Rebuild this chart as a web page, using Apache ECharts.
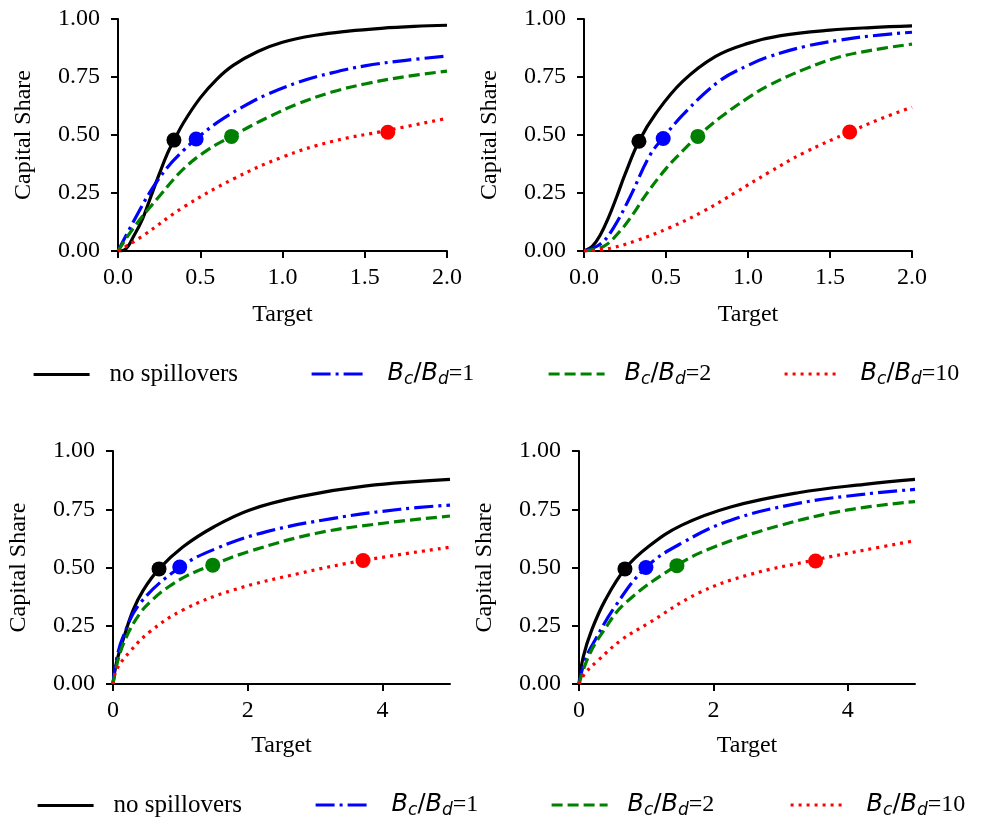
<!DOCTYPE html>
<html>
<head>
<meta charset="utf-8">
<script src="https://cdn.jsdelivr.net/npm/echarts@6.0.0/dist/echarts.min.js"></script>
<style>
html,body{margin:0;padding:0;background:#fff;}
#chart{width:987px;height:822px;}
</style>
</head>
<body>
<div id="chart"></div>
<script>
// ---------------- data ----------------
const seriesNames = ['no spillovers', 'Bc/Bd=1', 'Bc/Bd=2', 'Bc/Bd=10'];
const yTicks = [0, 0.25, 0.5, 0.75, 1.0];
const xTicksTop = [0, 0.5, 1.0, 1.5, 2.0];
const xTicksBottom = [0, 2, 4];

// Panel 1 (top-left)
const p1Black = [[0,0],[0.04,0.005],[0.1,0.07],[0.15,0.14],[0.2,0.235],[0.25,0.33],[0.3,0.42],[0.34,0.476],[0.4,0.555],[0.5,0.66],[0.6,0.74],[0.7,0.8],[0.85,0.86],[1.0,0.9],[1.2,0.93],[1.4,0.948],[1.6,0.96],[1.8,0.968],[2.0,0.973]];
const p1Blue  = [[0,0],[0.1,0.135],[0.2,0.26],[0.3,0.36],[0.4,0.435],[0.475,0.483],[0.6,0.552],[0.75,0.618],[0.9,0.673],[1.1,0.728],[1.3,0.768],[1.5,0.798],[1.75,0.822],[2.0,0.84]];
const p1Green = [[0,0],[0.1,0.105],[0.25,0.235],[0.4,0.355],[0.55,0.438],[0.69,0.494],[0.9,0.572],[1.1,0.636],[1.3,0.685],[1.5,0.72],[1.75,0.752],[2.0,0.775]];
const p1Red   = [[0,0],[0.15,0.065],[0.4,0.19],[0.7,0.31],[1.0,0.405],[1.3,0.472],[1.64,0.52],[2.0,0.572]];
const p1Dots  = [[0.34,0.478],[0.475,0.483],[0.69,0.494],[1.64,0.512]];

// Panel 2 (top-right)
const p2Black = [[0,0],[0.05,0.02],[0.1,0.07],[0.15,0.145],[0.2,0.235],[0.25,0.33],[0.335,0.473],[0.44,0.595],[0.6,0.73],[0.8,0.838],[1.0,0.895],[1.2,0.928],[1.5,0.952],[1.75,0.963],[2.0,0.97]];
const p2Blue  = [[0,0],[0.1,0.03],[0.18,0.1],[0.28,0.232],[0.4,0.41],[0.483,0.488],[0.62,0.6],[0.83,0.735],[1.0,0.8],[1.13,0.838],[1.35,0.882],[1.55,0.908],[1.75,0.927],[2.0,0.943]];
const p2Green = [[0,0],[0.12,0.02],[0.22,0.086],[0.3,0.16],[0.38,0.245],[0.5,0.355],[0.6,0.43],[0.694,0.494],[0.83,0.575],[1.0,0.66],[1.13,0.715],[1.35,0.785],[1.55,0.835],[1.75,0.865],[2.0,0.892]];
const p2Red   = [[0,0],[0.16,0.012],[0.32,0.045],[0.52,0.1],[0.73,0.172],[0.93,0.255],[1.13,0.34],[1.34,0.423],[1.62,0.513],[1.8,0.567],[2.0,0.62]];
const p2Dots  = [[0.335,0.473],[0.483,0.485],[0.694,0.494],[1.62,0.513]];

// Panel 3 (bottom-left)
const p3Black = [[0,0],[0.05,0.09],[0.15,0.19],[0.3,0.318],[0.45,0.403],[0.683,0.494],[1.04,0.589],[1.5,0.675],[2.03,0.747],[2.77,0.804],[3.76,0.85],[5,0.878]];
const p3Blue  = [[0,0],[0.05,0.103],[0.15,0.203],[0.4,0.346],[0.99,0.5],[1.535,0.582],[2.28,0.654],[3.27,0.711],[4.26,0.75],[5,0.768]];
const p3Green = [[0,0],[0.074,0.103],[0.2,0.203],[0.4,0.303],[0.6,0.365],[0.8,0.412],[1.1,0.465],[1.485,0.512],[2.03,0.57],[3.02,0.647],[4.01,0.69],[5,0.721]];
const p3Red   = [[0,0],[0.05,0.06],[0.25,0.139],[0.55,0.225],[1.04,0.318],[1.78,0.403],[2.77,0.475],[3.71,0.53],[5,0.587]];
const p3Dots  = [[0.683,0.494],[0.99,0.502],[1.48,0.51],[3.71,0.53]];

// Panel 4 (bottom-right)
const p4Black = [[0,0],[0.064,0.117],[0.19,0.232],[0.39,0.36],[0.684,0.494],[1.03,0.589],[1.53,0.682],[2.27,0.761],[3.26,0.821],[4.25,0.857],[5,0.878]];
const p4Blue  = [[0,0],[0.09,0.103],[0.24,0.189],[0.535,0.332],[0.996,0.5],[1.53,0.605],[2.27,0.704],[3.26,0.775],[4.25,0.815],[5,0.835]];
const p4Green = [[0,0],[0.14,0.117],[0.34,0.217],[0.684,0.346],[1.457,0.509],[2.02,0.589],[3.01,0.682],[4.0,0.747],[5,0.783]];
const p4Red   = [[0,0],[0.09,0.046],[0.29,0.103],[0.63,0.189],[1.03,0.26],[1.77,0.389],[2.52,0.468],[3.52,0.533],[4.25,0.575],[5,0.615]];
const p4Dots  = [[0.684,0.494],[0.996,0.5],[1.457,0.508],[3.52,0.528]];

// ---------------- styling ----------------
const colors = ['#000000', '#0000ff', '#008000', '#ff0000'];
const dashes = ['solid', [19, 5, 3, 5], [11, 5], [3, 5]];
const SERIF = 'Liberation Serif';
const FS = 24;

const panels = [
  {lines: [p1Black, p1Blue, p1Green, p1Red], dots: p1Dots, grid: {left: 118, top: 19, width: 329, height: 232}, xmax: 2, xticks: xTicksTop, xfmt: v => v.toFixed(1), nameGap: 52},
  {lines: [p2Black, p2Blue, p2Green, p2Red], dots: p2Dots, grid: {left: 584, top: 19, width: 328, height: 232}, xmax: 2, xticks: xTicksTop, xfmt: v => v.toFixed(1), nameGap: 52},
  {lines: [p3Black, p3Blue, p3Green, p3Red], dots: p3Dots, grid: {left: 113, top: 451, width: 337, height: 233}, xmax: 5, xticks: xTicksBottom, xfmt: v => String(v), nameGap: 50},
  {lines: [p4Black, p4Blue, p4Green, p4Red], dots: p4Dots, grid: {left: 579, top: 451, width: 336, height: 233}, xmax: 5, xticks: xTicksBottom, xfmt: v => String(v), nameGap: 50}
];

const grids = [], xAxes = [], yAxes = [], series = [];
const axisLine = {show: true, lineStyle: {color: '#000', width: 2}};
const axisTick = {show: true, length: 7, inside: false, lineStyle: {color: '#000', width: 2}};

panels.forEach((p, i) => {
  grids.push(Object.assign({containLabel: false}, p.grid));
  xAxes.push({
    type: 'value', gridIndex: i, min: 0, max: p.xmax,
    name: 'Target', nameLocation: 'middle', nameGap: p.nameGap,
    nameTextStyle: {fontFamily: SERIF, fontSize: FS, color: '#000'},
    axisLine: axisLine,
    axisTick: Object.assign({customValues: p.xticks}, axisTick),
    axisLabel: {customValues: p.xticks, formatter: p.xfmt, fontFamily: SERIF, fontSize: FS, color: '#000', margin: 15},
    splitLine: {show: false}
  });
  yAxes.push({
    type: 'value', gridIndex: i, min: 0, max: 1,
    name: 'Capital Share', nameLocation: 'middle', nameGap: 82, nameRotate: 90,
    nameTextStyle: {fontFamily: SERIF, fontSize: FS, color: '#000'},
    axisLine: axisLine,
    axisTick: Object.assign({customValues: yTicks}, axisTick),
    axisLabel: {customValues: yTicks, formatter: v => v.toFixed(2), fontFamily: SERIF, fontSize: FS, color: '#000', margin: 18},
    splitLine: {show: false}
  });
  p.lines.forEach((d, k) => {
    series.push({
      type: 'line', name: seriesNames[k], xAxisIndex: i, yAxisIndex: i,
      data: d, smooth: 0.4, symbol: 'none', showSymbol: false,
      lineStyle: {color: colors[k], width: 3.2, type: dashes[k], cap: 'butt'},
      itemStyle: {color: colors[k]},
      z: 2
    });
  });
  series.push({
    type: 'scatter', name: 'dots' + i, xAxisIndex: i, yAxisIndex: i,
    symbol: 'circle', symbolSize: 15,
    data: p.dots.map((pt, k) => ({value: pt, itemStyle: {color: colors[k], opacity: 1}})),
    itemStyle: {opacity: 1},
    z: 5
  });
});

const rich = {
  i: {fontFamily: 'DejaVu Sans', fontStyle: 'italic', fontSize: 24, lineHeight: 28, verticalAlign: 'middle', color: '#000'},
  s: {fontFamily: 'DejaVu Sans', fontStyle: 'italic', fontSize: 17, lineHeight: 14, verticalAlign: 'bottom', color: '#000'},
  n: {fontFamily: 'DejaVu Sans', fontSize: 24, lineHeight: 28, verticalAlign: 'middle', color: '#000'},
  r: {fontFamily: SERIF, fontSize: 24, lineHeight: 28, verticalAlign: 'middle', color: '#000'},
  t: {fontFamily: SERIF, fontSize: 25, lineHeight: 28, verticalAlign: 'middle', color: '#000'}
};
function fmt(name) {
  if (name === 'no spillovers') return '{t|no spillovers}';
  const v = name.split('=')[1];
  return '{i|B}{s|c}{n|/}{i|B}{s|d}{r|=' + v + '}';
}
const legendRows = [
  {top: 362, lefts: [32, 310, 547, 783]},
  {top: 793, lefts: [36, 314, 550, 789]}
];
const legends = [];
legendRows.forEach(row => {
  seriesNames.forEach((nm, k) => {
    legends.push({
      show: true, data: [nm], left: row.lefts[k], top: row.top, orient: 'horizontal',
      itemWidth: 56, itemHeight: 14, selectedMode: false, padding: 0,
      formatter: fmt,
      itemStyle: {opacity: 0},
      lineStyle: {width: 3.2},
      textStyle: {fontFamily: SERIF, fontSize: 24, color: '#000', padding: [0, 0, 0, 15], rich: rich}
    });
  });
});

const chart = echarts.init(document.getElementById('chart'), null, {renderer: 'canvas'});
chart.setOption({
  animation: false,
  backgroundColor: '#ffffff',
  tooltip: {show: false},
  grid: grids,
  xAxis: xAxes,
  yAxis: yAxes,
  legend: legends,
  series: series
});
</script>
</body>
</html>
